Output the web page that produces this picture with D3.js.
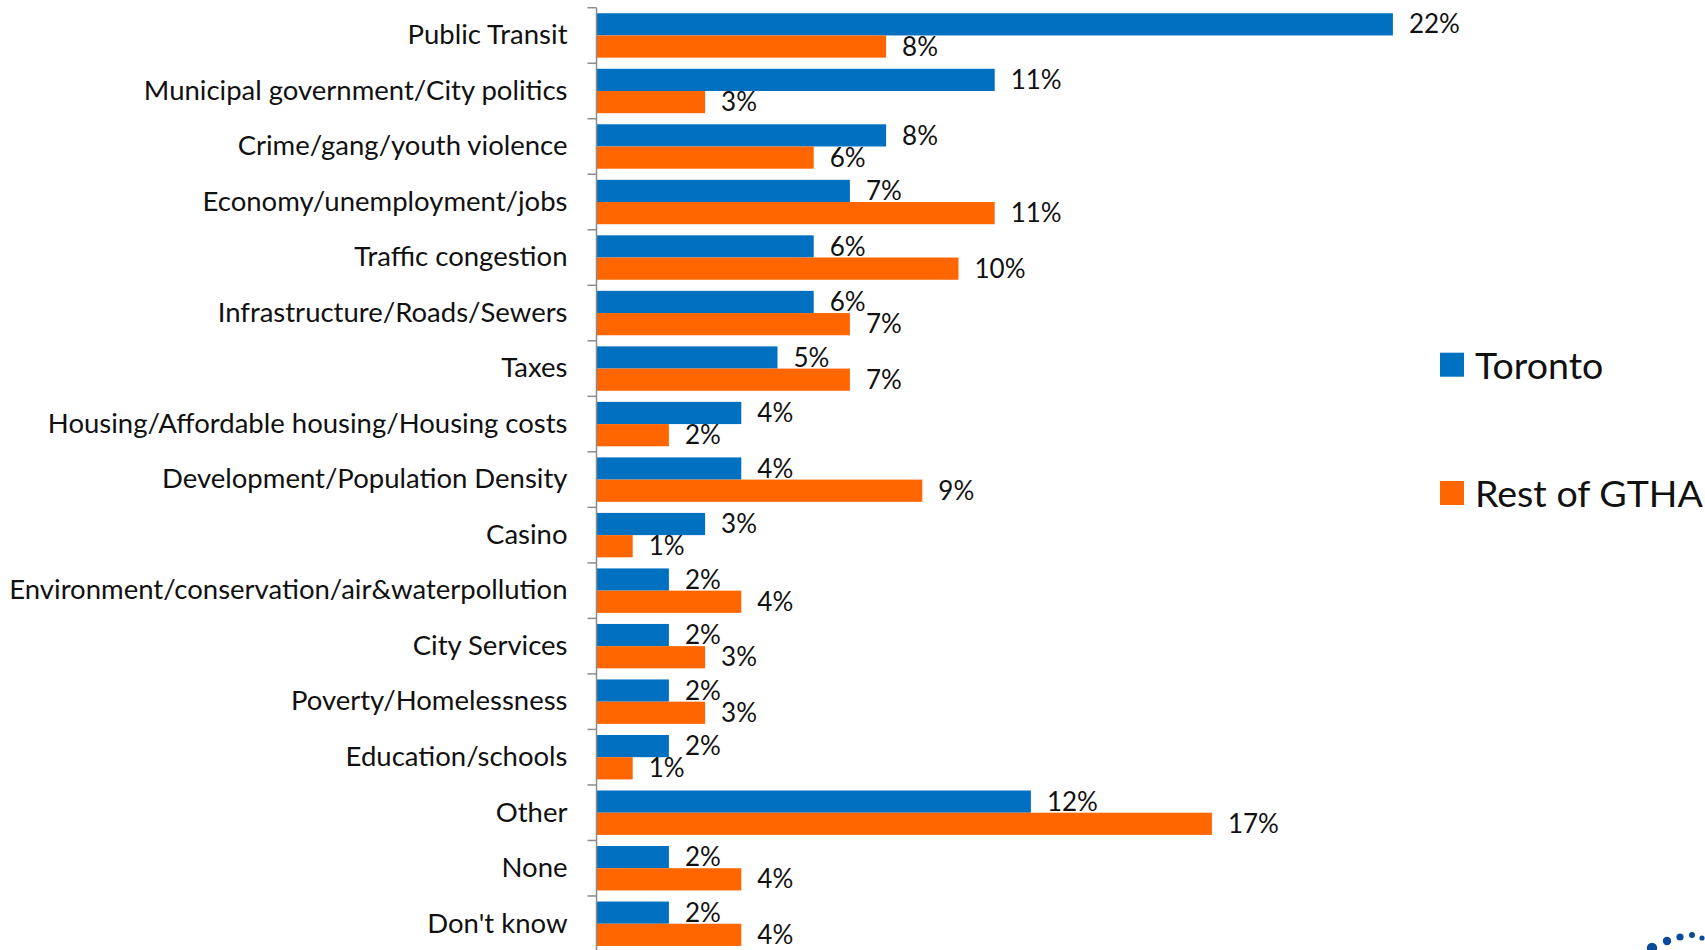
<!DOCTYPE html>
<html>
<head>
<meta charset="utf-8">
<script src="https://cdn.jsdelivr.net/npm/d3@7"></script>
<style>
  html, body { margin: 0; padding: 0; background: #fff; }
  svg { display: block; }
  text { font-family: Lato, "Open Sans", sans-serif; fill: #111; }
</style>
</head>
<body>
<svg id="chart" width="1705" height="950"></svg>
<script>
// Most important issue facing the city, Toronto vs. rest of the GTHA (%)
const categories = [
  "Public Transit",
  "Municipal government/City politics",
  "Crime/gang/youth violence",
  "Economy/unemployment/jobs",
  "Traffic congestion",
  "Infrastructure/Roads/Sewers",
  "Taxes",
  "Housing/Affordable housing/Housing costs",
  "Development/Population Density",
  "Casino",
  "Environment/conservation/air&waterpollution",
  "City Services",
  "Poverty/Homelessness",
  "Education/schools",
  "Other",
  "None",
  "Don't know"
];
const toronto   = [22, 11, 8, 7, 6, 6, 5, 4, 4, 3, 2, 2, 2, 2, 12, 2, 2];
const restGTHA  = [8, 3, 6, 11, 10, 7, 7, 2, 9, 1, 4, 3, 3, 1, 17, 4, 4];
const seriesNames = ["Toronto", "Rest of GTHA"];
const seriesColors = ["#0070C0", "#FF6600"];

const svg = d3.select("#chart");

const axisX = 596.5;
const x = d3.scaleLinear().domain([0, 1]).range([axisX, axisX + 36.2]);
const y = d3.scaleBand().domain(categories).range([7.7, 951.5])
  .paddingInner(0.2).paddingOuter(0.1);
const ySub = d3.scaleBand().domain(seriesNames).range([0, y.bandwidth()]);

const rows = categories.map((c, i) => ({
  cat: c,
  values: [
    { s: seriesNames[0], v: toronto[i] },
    { s: seriesNames[1], v: restGTHA[i] }
  ]
}));

// bars
const groups = svg.append("g").selectAll("g")
  .data(rows).join("g")
  .attr("transform", d => `translate(0,${y(d.cat)})`);

groups.selectAll("rect")
  .data(d => d.values).join("rect")
  .attr("x", x(0))
  .attr("y", d => ySub(d.s))
  .attr("width", d => x(d.v) - x(0))
  .attr("height", ySub.bandwidth())
  .attr("fill", (d, i) => seriesColors[i]);

// value labels, baseline just above each bar's bottom edge
groups.selectAll("text")
  .data(d => d.values).join("text")
  .attr("x", d => x(d.v) + 16)
  .attr("y", d => ySub(d.s) + ySub.bandwidth() - 2)
  .attr("font-size", 26)
  .text(d => d.v + "%");

// category axis: labels from d3.axisLeft, ticks on group boundaries
const axis = svg.append("g")
  .attr("transform", `translate(${axisX},0)`)
  .call(d3.axisLeft(y).tickSize(0).tickPadding(29));
axis.select(".domain").remove();
axis.selectAll("text")
  .attr("font-size", 27.5)
  .attr("font-family", "Lato, 'Open Sans', sans-serif")
  .attr("fill", "#111");

const step = y.step();
const bounds = categories.map(c => y(c) - y.paddingInner() * step / 2);
bounds.push(y(categories[categories.length - 1]) + y.bandwidth() + y.paddingInner() * step / 2);

const axisG = svg.append("g").attr("stroke", "#8c8c8c").attr("stroke-width", 1.5);
axisG.append("line")
  .attr("x1", axisX).attr("x2", axisX)
  .attr("y1", bounds[0]).attr("y2", bounds[bounds.length - 1]);
axisG.selectAll("line.tick")
  .data(bounds).join("line").attr("class", "tick")
  .attr("x1", axisX - 9).attr("x2", axisX)
  .attr("y1", d => d).attr("y2", d => d);

// legend
const legend = svg.append("g").attr("transform", "translate(1440,352.7)");
const legendItems = legend.selectAll("g")
  .data(seriesNames).join("g")
  .attr("transform", (d, i) => `translate(0,${i * 128.3})`);
legendItems.append("rect")
  .attr("width", 24).attr("height", 24)
  .attr("fill", (d, i) => seriesColors[i]);
const legendText = legendItems.append("text")
  .attr("x", 35).attr("y", 26)
  .attr("font-size", 40)
  .text(d => d);
// keep the longest legend entry inside the right edge
const widest = d3.max(legendText.nodes(), n => n.getComputedTextLength());
const room = 1703 - (1440 + 35);
if (widest > room) legendText.attr("font-size", 40 * room / widest);

// corner logo dots
const dots = [[1652, 948, 5.2], [1667, 941, 4.2], [1680, 937, 3.6], [1692, 935, 3], [1702, 938, 2.6]];
svg.append("g").selectAll("circle")
  .data(dots).join("circle")
  .attr("cx", d => d[0]).attr("cy", d => d[1]).attr("r", d => d[2])
  .attr("fill", "#0a4a9a");
</script>
</body>
</html>
